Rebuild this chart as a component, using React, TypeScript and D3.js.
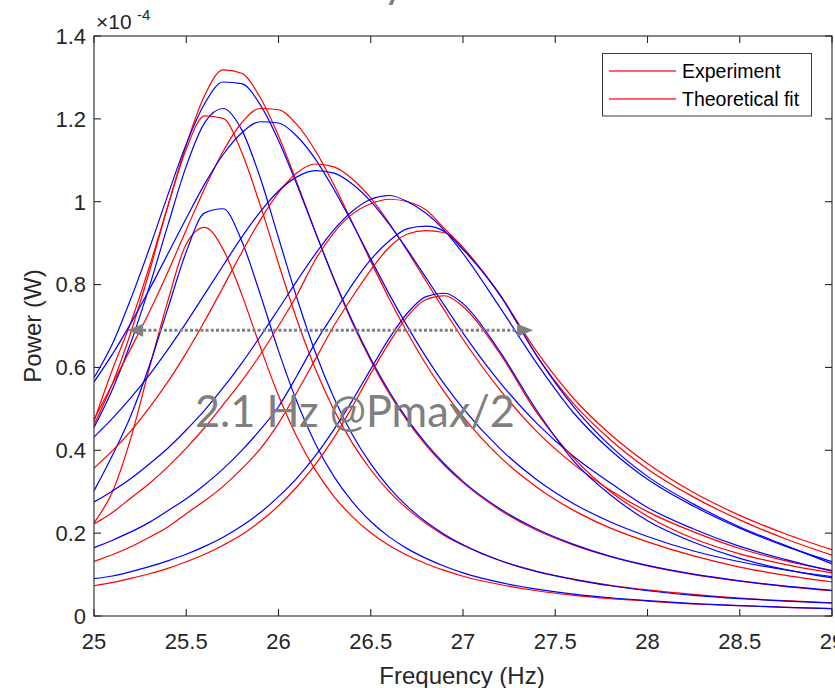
import React from "react";
import * as d3 from "d3";

// ---- data (Power in units of 1e-4 W) ----
const FREQ = [25.0, 25.1, 25.2, 25.3, 25.4, 25.5, 25.6, 25.7, 25.8, 25.9, 26.0, 26.1, 26.2, 26.3, 26.4, 26.5, 26.6, 26.7, 26.8, 26.9, 27.0, 27.2, 27.4, 27.6, 27.8, 28.0, 28.25, 28.5, 28.75, 29.0];

const EXP1 = [0.225, 0.30, 0.43, 0.598, 0.760, 0.898, 0.938, 0.885, 0.777, 0.651, 0.532, 0.432, 0.352, 0.289, 0.240, 0.201, 0.170, 0.146, 0.126, 0.110, 0.096, 0.076, 0.061, 0.050, 0.042, 0.036, 0.029, 0.025, 0.021, 0.018];
const FIT1 = [0.302, 0.388, 0.484, 0.604, 0.742, 0.879, 0.973, 0.983, 0.906, 0.778, 0.640, 0.517, 0.416, 0.337, 0.276, 0.228, 0.191, 0.162, 0.139, 0.120, 0.104, 0.081, 0.065, 0.053, 0.044, 0.037, 0.030, 0.025, 0.021, 0.018];
const EXP2 = [0.461, 0.561, 0.685, 0.831, 0.988, 1.127, 1.207, 1.201, 1.120, 0.993, 0.851, 0.715, 0.596, 0.498, 0.418, 0.353, 0.300, 0.258, 0.223, 0.194, 0.171, 0.134, 0.108, 0.089, 0.074, 0.063, 0.052, 0.043, 0.037, 0.032];
const FIT2 = [0.455, 0.547, 0.660, 0.795, 0.943, 1.086, 1.191, 1.225, 1.174, 1.059, 0.913, 0.767, 0.636, 0.527, 0.438, 0.367, 0.310, 0.264, 0.227, 0.197, 0.172, 0.134, 0.107, 0.088, 0.073, 0.061, 0.050, 0.042, 0.036, 0.031];
const EXP3 = [0.47, 0.595, 0.709, 0.843, 0.990, 1.137, 1.257, 1.318, 1.310, 1.252, 1.159, 1.046, 0.927, 0.813, 0.708, 0.617, 0.537, 0.470, 0.412, 0.363, 0.322, 0.256, 0.207, 0.171, 0.143, 0.121, 0.100, 0.084, 0.071, 0.061];
const FIT3 = [0.575, 0.657, 0.766, 0.887, 1.016, 1.139, 1.237, 1.289, 1.285, 1.235, 1.148, 1.041, 0.926, 0.815, 0.712, 0.621, 0.542, 0.474, 0.416, 0.367, 0.325, 0.259, 0.210, 0.173, 0.144, 0.122, 0.101, 0.085, 0.072, 0.062];
const EXP4 = [0.475, 0.56, 0.646, 0.734, 0.830, 0.932, 1.032, 1.122, 1.190, 1.225, 1.222, 1.186, 1.123, 1.041, 0.950, 0.856, 0.766, 0.683, 0.607, 0.540, 0.481, 0.384, 0.311, 0.255, 0.212, 0.179, 0.145, 0.118, 0.098, 0.082];
const FIT4 = [0.565, 0.632, 0.707, 0.788, 0.874, 0.960, 1.043, 1.114, 1.166, 1.193, 1.190, 1.158, 1.103, 1.030, 0.948, 0.862, 0.777, 0.698, 0.625, 0.559, 0.501, 0.404, 0.329, 0.271, 0.227, 0.192, 0.157, 0.131, 0.111, 0.095];
const EXP5 = [0.357, 0.399, 0.447, 0.503, 0.565, 0.635, 0.712, 0.794, 0.877, 0.955, 1.022, 1.070, 1.091, 1.084, 1.055, 1.009, 0.948, 0.880, 0.808, 0.737, 0.668, 0.546, 0.445, 0.366, 0.303, 0.252, 0.203, 0.163, 0.133, 0.110];
const FIT5 = [0.432, 0.477, 0.527, 0.582, 0.643, 0.708, 0.777, 0.846, 0.914, 0.975, 1.026, 1.060, 1.075, 1.069, 1.043, 1.001, 0.946, 0.883, 0.816, 0.749, 0.683, 0.564, 0.465, 0.385, 0.321, 0.262, 0.210, 0.168, 0.136, 0.108];
const EXP6 = [0.222, 0.25, 0.285, 0.32, 0.36, 0.405, 0.455, 0.51, 0.567, 0.63, 0.70, 0.775, 0.86, 0.925, 0.97, 0.995, 1.006, 1.0, 0.98, 0.935, 0.89, 0.775, 0.638, 0.525, 0.438, 0.368, 0.298, 0.243, 0.198, 0.16];
const FIT6 = [0.275, 0.302, 0.332, 0.367, 0.405, 0.449, 0.497, 0.551, 0.610, 0.674, 0.741, 0.809, 0.874, 0.932, 0.977, 1.006, 1.015, 1.0, 0.972, 0.93, 0.875, 0.745, 0.61, 0.49, 0.40, 0.33, 0.265, 0.212, 0.168, 0.131];
const EXP7 = [0.132, 0.148, 0.167, 0.19, 0.215, 0.247, 0.278, 0.313, 0.355, 0.403, 0.465, 0.54, 0.62, 0.70, 0.77, 0.835, 0.89, 0.922, 0.93, 0.925, 0.885, 0.776, 0.628, 0.512, 0.425, 0.355, 0.287, 0.232, 0.186, 0.147];
const FIT7 = [0.165, 0.183, 0.203, 0.226, 0.254, 0.283, 0.317, 0.355, 0.399, 0.449, 0.505, 0.58, 0.66, 0.73, 0.80, 0.86, 0.905, 0.935, 0.941, 0.928, 0.885, 0.775, 0.628, 0.505, 0.41, 0.337, 0.27, 0.215, 0.17, 0.126];
const EXP8 = [0.073, 0.081, 0.091, 0.102, 0.115, 0.131, 0.149, 0.171, 0.196, 0.228, 0.266, 0.312, 0.366, 0.430, 0.505, 0.585, 0.660, 0.724, 0.764, 0.773, 0.747, 0.633, 0.491, 0.381, 0.30, 0.241, 0.187, 0.150, 0.124, 0.104];
const FIT8 = [0.09, 0.0965, 0.107, 0.119, 0.133, 0.149, 0.168, 0.190, 0.217, 0.249, 0.288, 0.333, 0.387, 0.450, 0.520, 0.596, 0.670, 0.732, 0.771, 0.779, 0.754, 0.638, 0.496, 0.374, 0.292, 0.230, 0.178, 0.139, 0.112, 0.092];

const EXPERIMENT = [EXP1, EXP2, EXP3, EXP4, EXP5, EXP6, EXP7, EXP8];
const FIT = [FIT1, FIT2, FIT3, FIT4, FIT5, FIT6, FIT7, FIT8];

const X_TICKS = [25, 25.5, 26, 26.5, 27, 27.5, 28, 28.5, 29];
const Y_TICKS = [0, 0.2, 0.4, 0.6, 0.8, 1, 1.2, 1.4];
const LEGEND_LABELS = ["Experiment", "Theoretical fit"];
const LEGEND_COLORS = ["#ff0000", "#ff0000"];
const ANNOT_FROM = 25.18;
const ANNOT_TO = 27.38;
const ANNOT_LEVEL = 0.69;
const ANNOT_TEXT = "2.1 Hz @Pmax/2";

const W = 835;
const H = 688;
const L = 94, R = 832, T = 36, B = 616;
const AX = "#262626";
const FONT = "'Liberation Sans', Arial, Helvetica, sans-serif";

export default function App() {
  const x = d3.scaleLinear().domain([25, 29]).range([L, R]);
  const y = d3.scaleLinear().domain([0, 1.4]).range([B, T]);
  const line = d3
    .line<number>()
    .x((_, i) => x(FREQ[i]))
    .y((d) => y(d))
    .curve(d3.curveMonotoneX);

  const tickLen = 7;
  const ay = y(ANNOT_LEVEL);
  const ax1 = x(ANNOT_FROM);
  const ax2 = x(ANNOT_TO);
  const head = 16;
  const hh = 6.5;
  const legY = [71, 99];

  return (
    <svg width={W} height={H} style={{ position: "absolute", left: 0, top: 0, background: "#fff" }}>
      <rect x={0} y={0} width={W} height={H} fill="#fff" />
      {/* cut-off title glyph */}
      <text x={383} y={-3} fontFamily="Lato, 'Open Sans', sans-serif" fontSize={44} fill="#7f7f7f">y</text>
      <defs>
        <clipPath id="plotclip">
          <rect x={L} y={T} width={R - L} height={B - T} />
        </clipPath>
      </defs>
      <g clipPath="url(#plotclip)">
        {EXPERIMENT.map((s, k) => (
          <g key={k}>
            <path d={line(s) || ""} fill="none" stroke="#ff0000" strokeWidth={1.2} />
            <path d={line(FIT[k]) || ""} fill="none" stroke="#0000ff" strokeWidth={1.2} />
          </g>
        ))}
      </g>

      {/* annotation arrow */}
      <line x1={ax1 + head} x2={ax2 - head} y1={ay} y2={ay} stroke="#7f7f7f" strokeWidth={3} strokeDasharray="3 2.2" />
      <polygon points={`${ax1},${ay} ${ax1 + head},${ay - hh} ${ax1 + head},${ay + hh}`} fill="#7f7f7f" />
      <polygon points={`${ax2},${ay} ${ax2 - head},${ay - hh} ${ax2 - head},${ay + hh}`} fill="#7f7f7f" />
      <text x={x(25.547)} y={y(0.456)} fontFamily="Lato, 'Open Sans', sans-serif" fontSize={44} fill="#7f7f7f" textLength={320} lengthAdjust="spacingAndGlyphs">
        {ANNOT_TEXT}
      </text>

      {/* axes box */}
      <rect x={L} y={T} width={R - L} height={B - T} fill="none" stroke={AX} strokeWidth={1.1} />
      {X_TICKS.map((t) => (
        <g key={"x" + t}>
          <line x1={x(t)} x2={x(t)} y1={B} y2={B - tickLen} stroke={AX} strokeWidth={1.1} />
          <line x1={x(t)} x2={x(t)} y1={T} y2={T + tickLen} stroke={AX} strokeWidth={1.1} />
          <text x={x(t)} y={649} textAnchor="middle" fontFamily={FONT} fontSize={22} fill={AX}>
            {String(t)}
          </text>
        </g>
      ))}
      {Y_TICKS.map((t) => (
        <g key={"y" + t}>
          <line x1={L} x2={L + tickLen} y1={y(t)} y2={y(t)} stroke={AX} strokeWidth={1.1} />
          <line x1={R} x2={R - tickLen} y1={y(t)} y2={y(t)} stroke={AX} strokeWidth={1.1} />
          <text x={86} y={y(t)} dy="0.36em" textAnchor="end" fontFamily={FONT} fontSize={22} fill={AX}>
            {String(t)}
          </text>
        </g>
      ))}
      {/* exponent */}
      <text x={96} y={29} fontFamily={FONT} fontSize={21} fill={AX}>×10</text>
      <text x={137} y={20} fontFamily={FONT} fontSize={15} fill={AX}>-4</text>

      {/* axis labels */}
      <text x={462} y={684} textAnchor="middle" fontFamily={FONT} fontSize={24} fill={AX}>
        Frequency (Hz)
      </text>
      <text transform="translate(41,326) rotate(-90)" textAnchor="middle" fontFamily={FONT} fontSize={24} fill={AX}>
        Power (W)
      </text>

      {/* legend */}
      <rect x={602.5} y={53.5} width={209} height={62.5} fill="#fff" stroke={AX} strokeWidth={0.9} />
      {LEGEND_LABELS.map((lab, i) => (
        <g key={lab}>
          <rect x={609} y={legY[i] - 0.6} width={67} height={1.2} fill={LEGEND_COLORS[i]} />
          <text x={682} y={legY[i]} dy="0.35em" fontFamily={FONT} fontSize={19.5} fill="#000">
            {lab}
          </text>
        </g>
      ))}
    </svg>
  );
}
